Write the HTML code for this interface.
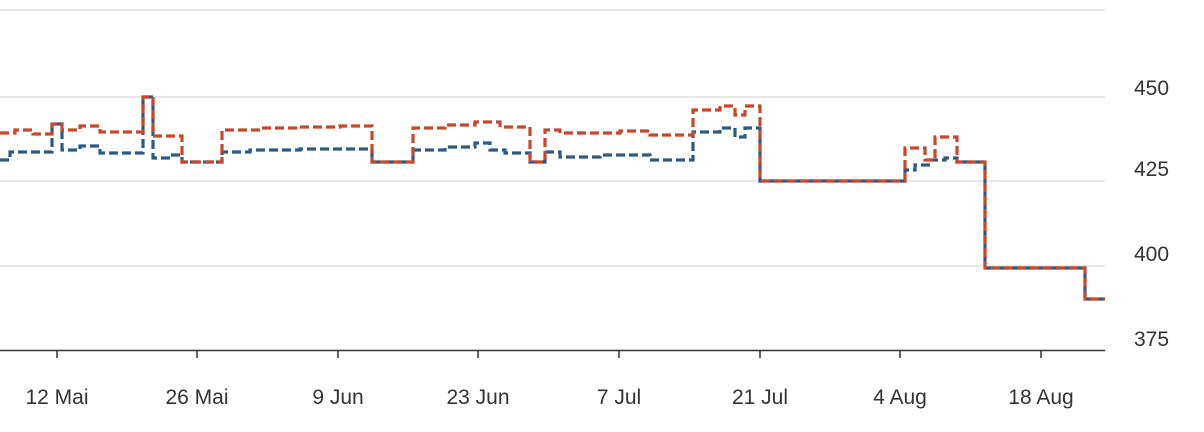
<!DOCTYPE html>
<html><head><meta charset="utf-8"><style>
html,body{margin:0;padding:0;background:#fff;}
svg{display:block;font-family:"Liberation Sans",Arial,sans-serif;}
</style></head><body>
<svg width="1204" height="432" viewBox="0 0 1204 432" xmlns="http://www.w3.org/2000/svg">
<g stroke="#e0e0e0" stroke-width="1.5">
<line x1="0" y1="10" x2="1105" y2="10"/>
<line x1="0" y1="97" x2="1105" y2="97"/>
<line x1="0" y1="181" x2="1105" y2="181"/>
<line x1="0" y1="266" x2="1105" y2="266"/>
</g>
<line x1="0" y1="350.5" x2="1105" y2="350.5" stroke="#333" stroke-width="1.5"/>
<g stroke="#333" stroke-width="1.5">
<line x1="57" y1="350" x2="57" y2="358"/><line x1="197" y1="350" x2="197" y2="358"/>
<line x1="338" y1="350" x2="338" y2="358"/><line x1="478" y1="350" x2="478" y2="358"/>
<line x1="619" y1="350" x2="619" y2="358"/><line x1="760" y1="350" x2="760" y2="358"/>
<line x1="900" y1="350" x2="900" y2="358"/><line x1="1041" y1="350" x2="1041" y2="358"/>
</g>
<g font-size="21" fill="#333" text-anchor="middle">
<text x="57" y="404">12 Mai</text><text x="197" y="404">26 Mai</text>
<text x="338" y="404">9 Jun</text><text x="478" y="404">23 Jun</text>
<text x="619" y="404">7 Jul</text><text x="760" y="404">21 Jul</text>
<text x="900" y="404">4 Aug</text><text x="1041" y="404">18 Aug</text>
</g>
<g font-size="21" fill="#333" text-anchor="start">
<text x="1134" y="95">450</text><text x="1134" y="176">425</text>
<text x="1134" y="261">400</text><text x="1134" y="346">375</text>
</g>
<path fill="none" stroke="#2d5b87" stroke-width="3.2" stroke-dasharray="9,4"
d="M0,160 H10 V152 H52 V124 H62 V150 H80 V146 H100 V153 H143 V97 H153 V158 H170 V155 H182 V162 H222 V152 H250 V150 H300 V149 H372 V162 H413 V150 H445 V147 H475 V143 H490 V150 H505 V153 H530 V162 H545 V152 H560 V157 H600 V155 H650 V160 H693 V132 H720 V128 H735 V137 H745 V128 H760 V181 H905 V170 H915 V165 H930 V160 H945 V158 H957 V162 H985 V268 H1085 V299 H1105"/>
<path fill="none" stroke="#c9472a" stroke-width="3.2" stroke-dasharray="9,4"
d="M0,133 H15 V130 H33 V134 H52 V124 H62 V130 H80 V126 H100 V132 H143 V97 H153 V136 H182 V162 H222 V130 H260 V128 H300 V127 H340 V126 H372 V162 H413 V128 H445 V125 H475 V122 H500 V127 H530 V162 H545 V130 H560 V133 H620 V131 H650 V135 H693 V110 H720 V106 H735 V115 H745 V106 H760 V181 H905 V148 H925 V160 H935 V137 H957 V162 H985 V268 H1085 V299 H1105"/>
</svg>
</body></html>
